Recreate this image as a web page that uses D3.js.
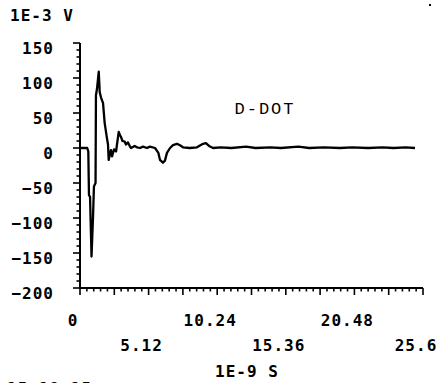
<!DOCTYPE html>
<html>
<head>
<meta charset="utf-8">
<script src="https://cdn.jsdelivr.net/npm/d3@7"></script>
<style>
  html, body { margin: 0; padding: 0; background: #fff; }
  svg { display: block; }
  .lbl { font-family: "DejaVu Sans Mono", monospace; font-weight: bold; font-size: 16px; fill: #000; letter-spacing: 1px; }
  .ann { font-family: "Liberation Mono", "Courier New", monospace; font-size: 17px; fill: #000; letter-spacing: 2px; }
</style>
</head>
<body>
<svg id="chart" width="443" height="383"></svg>
<script>
// ---- data (time in 1E-9 s, signal in 1E-3 V) ----
const times = [0, 0.54, 0.62, 0.67, 0.75, 0.86, 0.97, 1.04, 1.16, 1.19, 1.27, 1.4, 1.47, 1.57, 1.72, 1.84,
  2.01, 2.09, 2.14, 2.24, 2.31, 2.39, 2.54, 2.69, 2.76, 2.89, 2.99, 3.06, 3.17, 3.34, 3.43, 3.58, 3.73, 3.81,
  4.08, 4.25, 4.48, 4.7, 5.0, 5.22, 5.6, 5.85, 5.97, 6.19, 6.34, 6.49, 6.72, 6.94, 7.24, 7.46, 7.69, 8.2,
  8.73, 9.18, 9.4, 9.63, 9.93, 10.5, 11.3, 12.4, 13.1, 14.2, 15.0, 16.3, 17.1, 18.2, 19.4, 20.3, 21.5,
  22.6, 23.4, 24.3, 25.0];
const volts = [0, 0, -5, -67, -70, -155, -100, -55, -50, 75, 85, 109, 80, 72, 64, 36,
  14, 5, -17, -8, -3, -12, -2, -5, 5, 23, 18, 16, 10, 9, 5, 8, 2, 0,
  3, 1, 0, 2, 0, 2, 0, -7, -17, -21, -18, -7, 0, 4, 6, 4, 1, 0,
  1, 6, 7, 3, 0, 1, 0, 2, 0, 1, 0, 2, 0, 1, 0, 1, 0,
  1, 0, 1, 0];
const xMajorTicks = [0, 5.12, 10.24, 15.36, 20.48, 25.6];
const yMajorTicks = [-200, -150, -100, -50, 0, 50, 100, 150];
const yUnitLabel = "1E-3 V";
const xUnitLabel = "1E-9 S";
const seriesLabel = "D-DOT";
const stampLabel = "15:18:15";

// ---- layout ----
const svg = d3.select("#chart");
const x = d3.scaleLinear().domain([0, 25.6]).range([80, 423]);
const y = d3.scaleLinear().domain([-200, 150]).range([288, 43]);

const ink = "#000";

// y axis: line + ticks to the left
const yMinor = d3.range(-200, 150.1, 10);
svg.append("line").attr("x1", x(0)).attr("x2", x(0)).attr("y1", y(150)).attr("y2", y(-200))
  .attr("stroke", ink).attr("stroke-width", 2);
svg.selectAll(".ytick").data(yMinor).join("line")
  .attr("x1", x(0))
  .attr("x2", d => x(0) - (d % 50 === 0 ? 7 : 3.5))
  .attr("y1", d => y(d)).attr("y2", d => y(d))
  .attr("stroke", ink).attr("stroke-width", 1.6);

// x axis: line + ticks downwards
const xMinorAll = d3.range(0, 51).map(i => i * 0.512);
svg.append("line").attr("x1", x(0)).attr("x2", x(25.6)).attr("y1", y(-200)).attr("y2", y(-200))
  .attr("stroke", ink).attr("stroke-width", 2);
svg.selectAll(".xtick").data(xMinorAll).join("line")
  .attr("x1", d => x(d)).attr("x2", d => x(d))
  .attr("y1", y(-200))
  .attr("y2", (d, i) => y(-200) + (i % 5 === 0 ? 7 : 3.5))
  .attr("stroke", ink).attr("stroke-width", 1.6);

// y tick labels
svg.selectAll(".ylab").data(yMajorTicks).join("text")
  .attr("class", "lbl")
  .attr("x", 54)
  .attr("y", d => y(d) + 11)
  .attr("text-anchor", "end")
  .text(d => d3.format("d")(d));

// x tick labels (two staggered rows)
svg.selectAll(".xlab").data(xMajorTicks).join("text")
  .attr("class", "lbl")
  .attr("x", d => x(d) - 7)
  .attr("y", (d, i) => y(-200) + (i % 2 === 0 ? 38 : 63))
  .attr("text-anchor", "middle")
  .text(d => String(d));

// unit labels
svg.append("text").attr("class", "lbl").attr("x", 10).attr("y", 21).text(yUnitLabel);
svg.append("text").attr("class", "lbl").attr("x", 247).attr("y", y(-200) + 89)
  .attr("text-anchor", "middle").text(xUnitLabel);
svg.append("text").attr("class", "lbl").attr("x", 7).attr("y", 394).text(stampLabel);

// series annotation
svg.append("text").attr("class", "ann").attr("x", 265).attr("y", 114)
  .attr("text-anchor", "middle").text(seriesLabel);

// waveform
const pts = times.map((t, i) => [t, volts[i]]);
svg.append("path")
  .datum(pts)
  .attr("fill", "none")
  .attr("stroke", ink)
  .attr("stroke-width", 2.3)
  .attr("stroke-linejoin", "round")
  .attr("d", d3.line().x(d => x(d[0])).y(d => y(d[1])));

// small dot at top right
svg.append("rect").attr("x", 429).attr("y", 4).attr("width", 2).attr("height", 2).attr("fill", ink);
</script>
</body>
</html>
